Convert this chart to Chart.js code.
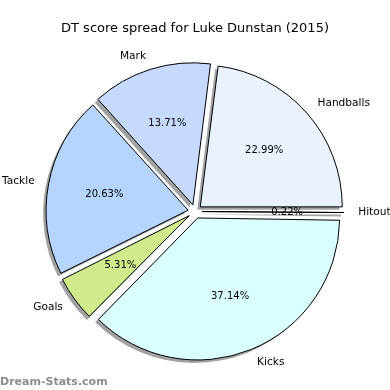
<!DOCTYPE html>
<html>
<head>
<meta charset="utf-8">
<script src="https://cdn.jsdelivr.net/npm/chart.js@4.4.1/dist/chart.umd.min.js"></script>
<style>
    html, body { margin: 0; padding: 0; background: #fff; }
    #wrap { width: 390px; height: 390px; }
</style>
</head>
<body>
<div id="wrap"><canvas id="pieChart"></canvas></div>
<script>
// slices in the order they go round the pie (anticlockwise from 3 o'clock)
const categories = ['Handballs', 'Mark', 'Tackle', 'Goals', 'Kicks', 'Hitout'];
const shares = [22.99, 13.71, 20.63, 5.31, 37.14, 0.22];
const sliceColors = ['#eaf1ff', '#c6d9ff', '#b5d5ff', '#d0ea8c', '#daffff', '#ffffff'];

const EXPLODE = 7;      // px each slice is pushed out from the centre
const RADIUS = 142;
const SHADOW_DX = -3, SHADOW_DY = 3;
const FONT = '"DejaVu Sans", Verdana, sans-serif';

// Chart.js draws clockwise, the reference runs anticlockwise -> reverse
const labels = categories.slice().reverse();
const values = shares.slice().reverse();
const colors = sliceColors.slice().reverse();

// centre of an exploded slice
function sliceCentre(arc) {
    const mid = (arc.startAngle + arc.endAngle) / 2;
    return { x: arc.x + Math.cos(mid) * EXPLODE, y: arc.y + Math.sin(mid) * EXPLODE, mid };
}

const pieExtras = {
    id: 'pieExtras',
    // arc.draw() grows thin/wide slices by offset*(1-sin(circ)); undo that so all radii match
    afterDatasetsUpdate(chart) {
        chart.getDatasetMeta(0).data.forEach(arc => {
            const circ = arc.endAngle - arc.startAngle;
            const fix = 1 - Math.sin(Math.min(Math.PI, circ));
            arc.outerRadius = RADIUS - fix * EXPLODE;
        });
    },
    // drop shadows behind all slices
    beforeDatasetsDraw(chart) {
        const ctx = chart.ctx;
        ctx.save();
        ctx.fillStyle = 'rgba(70,70,70,0.5)';
        chart.getDatasetMeta(0).data.forEach(arc => {
            const c = sliceCentre(arc);
            ctx.beginPath();
            ctx.moveTo(c.x + SHADOW_DX, c.y + SHADOW_DY);
            ctx.arc(c.x + SHADOW_DX, c.y + SHADOW_DY, RADIUS, arc.startAngle, arc.endAngle);
            ctx.closePath();
            ctx.fill();
        });
        ctx.restore();
    },
    // category names outside, percentages inside
    afterDatasetsDraw(chart) {
        const ctx = chart.ctx;
        ctx.save();
        ctx.fillStyle = '#000';
        ctx.textBaseline = 'middle';
        chart.getDatasetMeta(0).data.forEach((arc, i) => {
            const c = sliceCentre(arc);
            const cos = Math.cos(c.mid), sin = Math.sin(c.mid);
            ctx.font = '10.6px ' + FONT;
            ctx.textAlign = cos >= 0 ? 'left' : 'right';
            ctx.fillText(labels[i], c.x + cos * RADIUS * 1.1, c.y + sin * RADIUS * 1.1);
            ctx.font = '10px ' + FONT;
            ctx.textAlign = 'center';
            ctx.fillText(values[i].toFixed(2) + '%', c.x + cos * RADIUS * 0.6, c.y + sin * RADIUS * 0.6);
        });
        ctx.restore();
    },
    afterDraw(chart) {
        const ctx = chart.ctx;
        ctx.save();
        ctx.font = 'bold 11px ' + FONT;
        ctx.fillStyle = '#8c8c8c';
        ctx.textAlign = 'left';
        ctx.textBaseline = 'alphabetic';
        ctx.fillText('Dream-Stats.com', 0, 385);
        ctx.restore();
    }
};

new Chart(document.getElementById('pieChart'), {
    type: 'pie',
    data: {
        labels: labels,
        datasets: [{
            data: values,
            backgroundColor: colors,
            borderColor: '#000',
            borderWidth: 1,
            offset: EXPLODE * 4,   // ArcElement translates by offset / 4
            hoverOffset: EXPLODE * 4
        }]
    },
    options: {
        responsive: true,
        maintainAspectRatio: false,
        animation: false,
        events: [],
        rotation: 90,
        radius: RADIUS,
        layout: { padding: { left: 20, right: 20, top: 0, bottom: 9.6 } },
        plugins: {
            legend: { display: false },
            tooltip: { enabled: false },
            title: {
                display: true,
                text: 'DT score spread for Luke Dunstan (2015)',
                color: '#000',
                font: { family: FONT, size: 13, weight: 'normal' },
                padding: { top: 21, bottom: 6 }
            }
        }
    },
    plugins: [pieExtras]
});
</script>
</body>
</html>
